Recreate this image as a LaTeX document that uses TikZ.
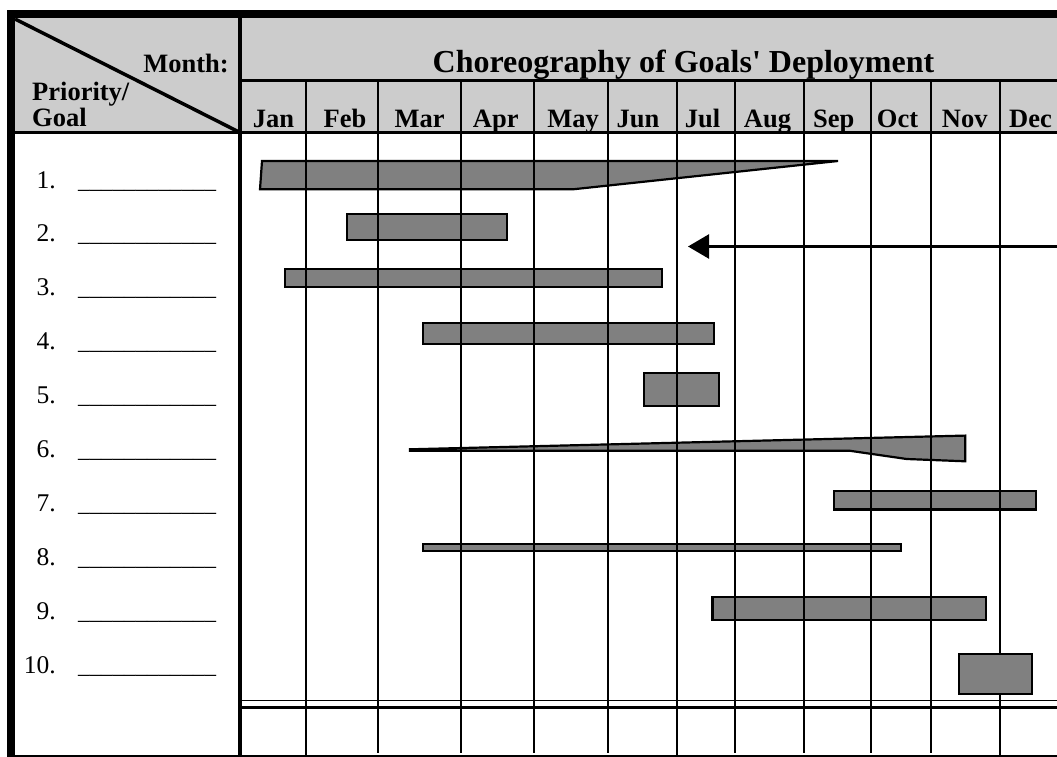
\documentclass[tikz,border=0pt]{standalone}
\usepackage{fontspec}
\setmainfont{Liberation Serif}
\usetikzlibrary{arrows.meta}
\definecolor{hdrgray}{HTML}{CCCCCC}
\definecolor{barfill}{HTML}{808080}
\begin{document}
\begin{tikzpicture}[x=1pt,y=-1pt,
  bar/.style={fill=barfill,draw=black,line width=2.2pt,line join=miter},
  gridline/.style={line width=2pt},
  hdrtext/.style={inner sep=0pt,font=\fontsize{26.5}{26.5}\selectfont\bfseries},
  monthlbl/.style={hdrtext,anchor=base},
  titletext/.style={inner sep=0pt,anchor=base,font=\fontsize{32}{32}\selectfont\bfseries},
  numlbl/.style={inner sep=0pt,anchor=base east,font=\fontsize{25.5}{25.5}\selectfont},
  blank/.style={inner sep=0pt,anchor=base west,font=\fontsize{23}{23}\selectfont},
  arrowline/.style={line width=2.5pt,-{Triangle[length=21pt,width=24pt]}}]
\useasboundingbox (0,0) rectangle (1057,757);

% header band
\fill[hdrgray] (15,18) rectangle (1057,133);

% bars behind the month grid
\draw[bar] (262,161) -- (838,161) -- (573,189.3) -- (260,189.3) -- cycle;
\draw[bar] (347.3,214.3) rectangle (507,240);
\draw[bar] (285,269.3) rectangle (661.7,286.7);
\draw[bar] (423.3,322.7) rectangle (714.3,343.7);
\draw[bar] (644.3,373.3) rectangle (719,406);
\draw[bar] (410,449.3) -- (965.2,435.6) -- (965.2,461.3) -- (906.7,459) -- (850,450.8) -- (410,450.8) -- cycle;
\draw[bar] (833.6,491) rectangle (1036,509.5);
\draw[bar] (423.3,544.2) rectangle (901,551);
\draw[bar] (712.4,597.2) rectangle (985.7,620);

% month grid
\foreach \mx in {306,677,999.5} \draw[gridline] (\mx,81) -- (\mx,757);
\foreach \mx in {378,461,534,608,735,804,871,931} \draw[gridline] (\mx,81) -- (\mx,753);
\draw[line width=3pt] (242,81) -- (1057,81);
\draw[line width=3pt] (15,133) -- (1057,133);
\draw[line width=1.8pt] (242,700.5) -- (1057,700.5);
\draw[line width=2.5pt] (242,707.5) -- (1057,707.5);
\draw[line width=1.5pt] (7,756) -- (1057,756);

% last bar sits on top of the grid
\draw[bar] (959,654) rectangle (1031.8,693.7);

% moving deadline
\coordinate (arrowstart) at (1057,246.5);
\coordinate (arrowtip) at (688,246.5);
\draw[arrowline] (arrowstart) -- (arrowtip);

% frame
\fill[black] (7,10) rectangle (1057,18);
\fill[black] (7,10) rectangle (15,757);
\draw[line width=4pt] (240,18) -- (240,757);
\draw[line width=3.5pt] (15,19) -- (239,132);

% header texts
\node[hdrtext,anchor=base east] (monthhdr) at (229,73) {Month:};
\node[hdrtext,anchor=base west] (prihdr) at (32,101) {Priority/};
\node[hdrtext,anchor=base west] (goalhdr) at (32,127) {Goal};
\node[titletext] (title) at (683.5,73) {Choreography of Goals\textquotesingle\ Deployment};

\node[monthlbl] (jan) at (273.5,128) {Jan};
\node[monthlbl] (feb) at (345,128) {Feb};
\node[monthlbl] (mar) at (419.7,128) {Mar};
\node[monthlbl] (apr) at (495.8,128) {Apr};
\node[monthlbl] (may) at (573,128) {May};
\node[monthlbl] (jun) at (638,128) {Jun};
\node[monthlbl] (jul) at (702.5,128) {Jul};
\node[monthlbl] (aug) at (767.5,128) {Aug};
\node[monthlbl] (sep) at (833.8,128) {Sep};
\node[monthlbl] (oct) at (897.5,128) {Oct};
\node[monthlbl] (nov) at (964.7,128) {Nov};
\node[monthlbl] (dec) at (1030.5,128) {Dec};

% priority rows
\foreach \k in {1,...,10} {
  \pgfmathsetmacro{\by}{188+(\k-1)*53.9}
  \node[numlbl] (num\k) at (56,\by) {\k.};
  \node[blank] (blank\k) at (78,\by) {\_\_\_\_\_\_\_\_\_\_\_\_};
}
\end{tikzpicture}
\end{document}
